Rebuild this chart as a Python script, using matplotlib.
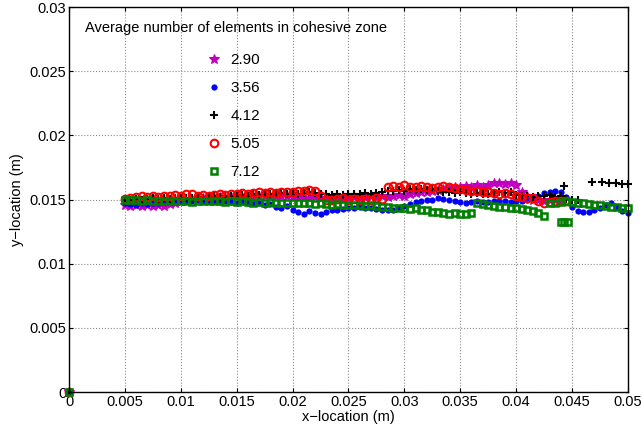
import numpy as np
import matplotlib.pyplot as plt

plt.rcParams['font.family'] = ['Liberation Sans', 'DejaVu Sans']

# crack path samples, x and y in mm
x_grid = [5.0, 5.5, 6.0, 6.5, 7.0, 7.5, 8.0, 8.5, 9.0,
          9.5, 10.0, 10.5, 11.0, 11.5, 12.0,
          12.5, 13.0, 13.5, 14.0, 14.5, 15.0, 15.5, 16.0, 16.5, 17.0, 17.5, 18.0, 18.5, 19.0, 19.5, 20.0,
          20.5, 21.0, 21.5, 22.0, 22.5, 23.0, 23.5, 24.0, 24.5, 25.0, 25.5, 26.0, 26.5, 27.0, 27.5, 28.0,
          28.5, 29.0, 29.5, 30.0, 30.5, 31.0, 31.5, 32.0, 32.5, 33.0,
          33.5, 34.0, 34.5, 35.0, 35.5, 36.0, 36.5, 37.0,
          37.5, 38.0, 38.5, 39.0, 39.5,
          40.0, 40.5, 41.0,
          41.5, 42.0, 42.5, 43.0, 43.5, 44.0,
          44.5, 45.0, 45.5, 46.0, 46.5, 47.0, 47.5, 48.0, 48.5, 49.0, 49.5, 50.0]

nan = np.nan
y_290 = [14.55, 14.5, 14.6, 14.48, 14.55, 14.5, 14.6, 14.52, 14.65,
         14.75, 14.85, 14.9, 15.0, 15.05, 15.1,
         15.1, 15.15, 15.2, 15.15, 15.2, 15.25, 15.2, 15.15, 15.2, 15.25, 15.3, 15.2, 15.25, 15.3, 15.25, 15.2,
         15.2, 15.15, 15.1, 15.2, 15.15, 15.1, 15.05, 15.1, 15.15, 15.1, 15.2, 15.15, 15.2, 15.25, 15.2, 15.3,
         15.2, 15.3, 15.35, 15.3, 15.45, 15.5, 15.55, 15.6, 15.7, 15.75,
         15.8, 15.9, 15.95, 16.0, 16.05, 15.95, 16.1, 16.0,
         16.15, 16.25, 16.3, 16.2, 16.25,
         16.1, 15.6, 15.3,
         15.0, 14.95, 14.9, 15.0, 14.95, 14.9,
         nan, nan, nan, nan, nan, nan, nan, nan, nan, nan, nan, nan]
y_356 = [14.7, 14.65, 14.6, 14.7, 14.65, 14.7, 14.75, 14.8, 14.85,
         14.85, 14.9, 14.85, 14.9, 14.95, 14.9,
         14.9, 14.85, 14.8, 14.85, 14.8, 14.75, 14.8, 14.7, 14.75, 14.7, 14.6, 14.65, 14.4, 14.3, 14.5, 14.2,
         14.0, 13.9, 14.1, 13.95, 13.85, 14.0, 14.2, 14.15, 14.25, 14.35, 14.3, 14.4, 14.35, 14.3, 14.25, 14.2,
         14.15, 14.2, 14.3, 14.5, 14.65, 14.8, 14.9, 14.95, 15.0, 15.1,
         15.05, 15.0, 14.9, 14.8, 14.75, 14.8, 14.85, 14.8,
         14.8, 14.85, 14.9, 14.85, 14.8,
         14.85, 14.9, 14.95,
         15.1, 15.3, 15.5, 15.6, 15.7, 15.55,
         15.2, 14.4, 14.1, 14.0, 14.05, 14.15, 14.3, 14.6, 14.75, 14.4, 14.1, 13.95]
y_412 = [14.95, 15.0, 15.05, 15.0, 15.05, 15.1, 15.05, 15.1, 15.05,
         15.1, 15.15, 15.1, 15.15, 15.2, 15.15,
         15.2, 15.25, 15.2, 15.3, 15.25, 15.3, 15.35, 15.3, 15.4, 15.35, 15.45, 15.4, 15.45, 15.5, 15.45, 15.5,
         15.45, 15.5, 15.55, 15.5, 15.45, 15.4, 15.35, 15.4, 15.35, 15.4, 15.45, 15.4, 15.5, 15.45, 15.5, 15.55,
         15.65, 15.7, 15.75, 15.7, 15.8, 15.75, 15.8, 15.75, 15.8, 15.7,
         15.55, 15.6, 15.5, 15.55, 15.5, 15.45, 15.5, 15.45,
         15.45, 15.5, 15.55, 15.5, 15.6,
         15.35, 15.3, 15.25,
         15.2, 15.3, 15.25, 15.35, 15.2, 15.25,
         15.05, 15.0, 14.95, nan, nan, nan, nan, nan, nan, nan, nan, nan]
y_505 = [15.05, 15.15, 15.2, 15.25, 15.2, 15.3, 15.2, 15.25, 15.3,
         15.35, 15.3, 15.45, 15.4, 15.3, 15.35,
         15.3, 15.35, 15.4, 15.35, 15.45, 15.4, 15.5, 15.45, 15.5, 15.55, 15.5, 15.6, 15.5, 15.55, 15.6, 15.55,
         15.65, 15.7, 15.75, 15.65, 15.3, 15.0, 14.95, 15.05, 15.1, 15.0, 15.05, 14.95, 15.05, 15.0, 15.1, 15.05,
         15.95, 16.05, 16.0, 16.1, 16.0, 15.95, 16.05, 16.0, 15.9, 16.0,
         16.05, 15.95, 15.9, 15.8, 15.75, 15.65, 15.7, 15.6,
         15.55, 15.5, 15.45, 15.5, 15.4,
         15.3, 15.2, 15.15,
         15.1, 14.85, 14.75, 14.8, 14.85, 14.9,
         14.85, nan, nan, nan, nan, nan, nan, nan, nan, nan, nan, nan]
y_712 = [15.0, 14.95, 15.0, 14.9, 14.95, 14.85, 14.9, 14.85, 14.9,
         14.85, 14.9, 14.85, 14.8, 14.85, 14.9,
         14.85, 14.9, 14.85, 14.8, 14.85, 14.8, 14.85, 14.8, 14.75, 14.8, 14.75, 14.8, 14.75, 14.7, 14.75, 14.7,
         14.7, 14.75, 14.7, 14.65, 14.7, 14.65, 14.6, 14.65, 14.6, 14.55, 14.6, 14.55, 14.5, 14.55, 14.5, 14.45,
         14.4, 14.35, 14.35, 14.3, 14.25, 14.3, 14.2, 14.15, 14.05, 14.0,
         13.95, 13.9, 13.95, 13.85, 13.9, 13.95, 14.7, 14.65,
         14.55, 14.5, 14.45, 14.4, 14.35,
         14.3, 14.25, 14.2,
         14.1, 13.95, 13.75, 14.7, 14.75, 14.8,
         14.85, 14.8, 14.75, 14.7, 14.65, 14.6, 14.55, 14.5, 14.45, 14.4, 14.35, 14.3]

# isolated points
x_412_extra = [44.3, 46.8, 47.7, 48.3, 48.9, 49.5, 50.0]
y_412_extra = [16.05, 16.35, 16.35, 16.3, 16.25, 16.2, 16.2]
x_712_extra = [44.0, 44.3, 44.6]
y_712_extra = [13.25, 13.25, 13.25]

labels = ['2.90', '3.56', '4.12', '5.05', '7.12']
legend_title = 'Average number of elements in cohesive zone'
xs = [x_grid, x_grid, x_grid + x_412_extra, x_grid, x_grid + x_712_extra]
ys = [y_290, y_356, y_412 + y_412_extra, y_505, y_712 + y_712_extra]
styles = [dict(marker='*', color='m', ms=7, mew=0.8),
          dict(marker='o', color='b', ms=4.5, mew=0),
          dict(marker='+', color='k', ms=5.5, mew=1.5),
          dict(marker='o', color='r', mfc='none', ms=5.5, mew=1.5),
          dict(marker='s', color='g', mfc='none', ms=4.2, mew=1.8)]

fig = plt.figure(figsize=(6.42, 4.28), dpi=100)
ax = fig.add_axes([0.1075, 0.0841, 0.8705, 0.8995])

for x, y, lab, st in zip(xs, ys, labels, styles):
    xm = np.concatenate([[0.0], np.array(x) / 1000.0])
    ym = np.concatenate([[0.0], np.array(y) / 1000.0])
    ax.plot(xm, ym, linestyle='none', label=lab, clip_on=False, **st)

ax.set_xlim(0, 0.05)
ax.set_ylim(0, 0.03)
ax.set_xticks(np.arange(0, 0.0501, 0.005))
ax.set_yticks(np.arange(0, 0.0301, 0.005))
ax.set_xticklabels(['0', '0.005', '0.01', '0.015', '0.02', '0.025', '0.03', '0.035', '0.04', '0.045', '0.05'])
ax.set_yticklabels(['0', '0.005', '0.01', '0.015', '0.02', '0.025', '0.03'])
ax.tick_params(direction='in', length=3, top=True, right=True, labelsize=10.5, pad=2)
ax.grid(True, linestyle=':', color='0.55', linewidth=0.8)
for s in ax.spines.values():
    s.set_linewidth(1.0)
ax.set_xlabel('x\u2212location (m)', fontsize=10.5, labelpad=1)
ax.set_ylabel('y\u2212location (m)', fontsize=10.5, labelpad=4)

ax.text(0.0286, 0.946, legend_title, transform=ax.transAxes, fontsize=10.5,
        ha='left', va='center')
ax.legend(frameon=False, loc='upper left', bbox_to_anchor=(0.221, 0.916), fontsize=11,
          labelspacing=0.92, handlelength=1.0, handletextpad=0.6, numpoints=1)

fig.savefig('out.png', dpi=100)
